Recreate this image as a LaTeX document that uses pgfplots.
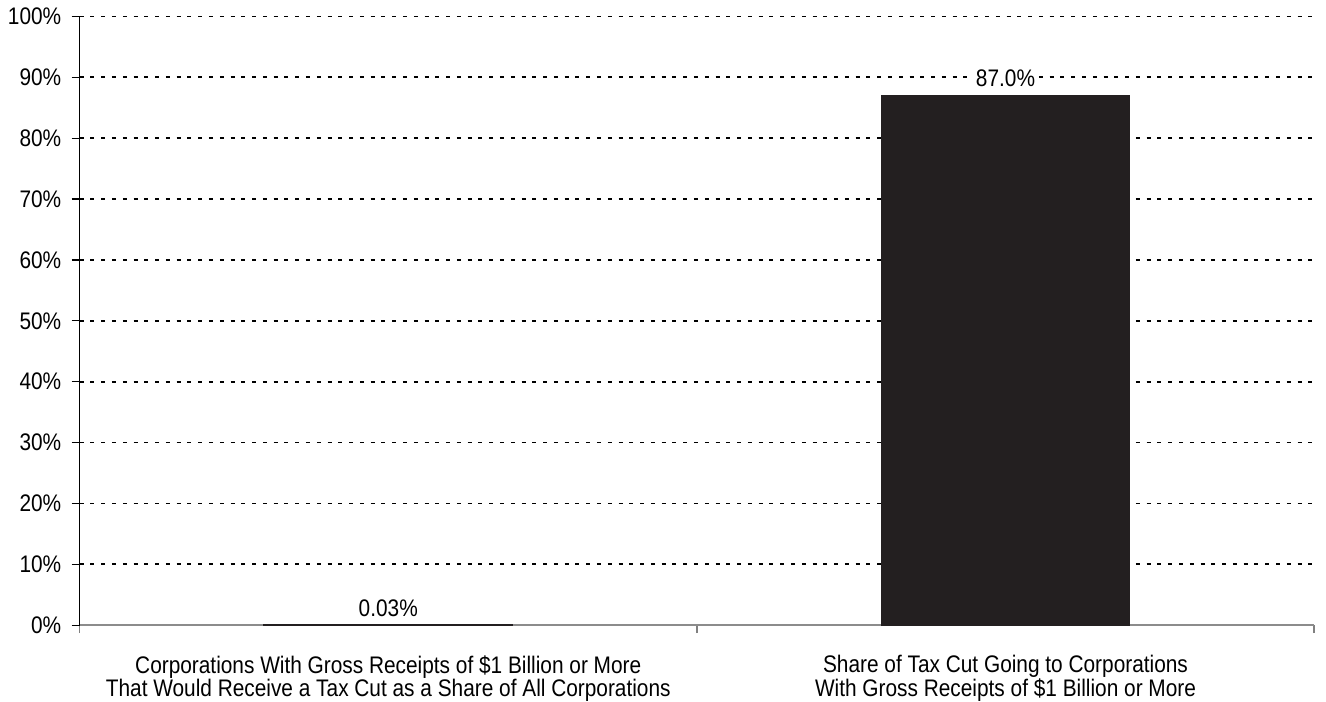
\documentclass[border=0pt]{standalone}
\usepackage{pgfplots}
\pgfplotsset{compat=1.18}
\usepackage{fontspec}
\setmainfont[FakeStretch=0.87]{Liberation Sans}
\definecolor{barcol}{HTML}{231F20}
\begin{document}
\begin{tikzpicture}
\fontsize{12}{14}\selectfont
\begin{axis}[
  scale only axis,
  width=618.5pt, height=305pt,
  xmin=-0.5, xmax=1.5,
  ymin=0, ymax=100,
  axis lines=left,
  axis line style={-},
  x axis line style={draw=gray!90, line width=0.8pt},
  y axis line style={draw=black, line width=0.6pt},
  ytick={0,10,...,100},
  yticklabel={\pgfmathprintnumber{\tick}\%},
  /pgf/number format/assume math mode=true,
  ymajorgrids,
  grid style={black, line width=0.9pt, dash pattern=on 2pt off 3.4pt},
  xtick={0,1},
  xticklabels={{Corporations With Gross Receipts of \$1 Billion or More\\That Would Receive a Tax Cut as a Share of All Corporations},
               {Share of Tax Cut Going to Corporations\\With Gross Receipts of \$1 Billion or More}},
  xticklabel style={align=center, font=\fontsize{12}{11.6}\selectfont, inner sep=0pt, yshift=-11pt},
  x tick style={draw=none},
  minor xtick={-0.5,0.5,1.5},
  minor x tick style={draw=gray, line width=0.8pt},
  minor tick length=4pt,
  major tick length=4pt,
  tick align=outside,
  y tick style={black, line width=0.6pt},
  yticklabel style={xshift=-1pt},
  tick label style={font=\fontsize{12}{14}\selectfont},
  clip=false,
]
\addplot[ybar, bar width=124.5pt, fill=barcol, draw=barcol, line width=0.6pt,
  nodes near coords,
  point meta=explicit symbolic,
  every node near coord/.append style={fill=white, inner sep=1pt, font=\fontsize{12}{14}\selectfont, yshift=3pt}]
  coordinates {(0,0.03) [0.03\%] (1,87.0) [87.0\%]};
\end{axis}
\path (current bounding box.east) ++(5.5pt,0) coordinate (rightpad);
\path (current bounding box.south east) (rightpad);
\end{tikzpicture}
\end{document}
